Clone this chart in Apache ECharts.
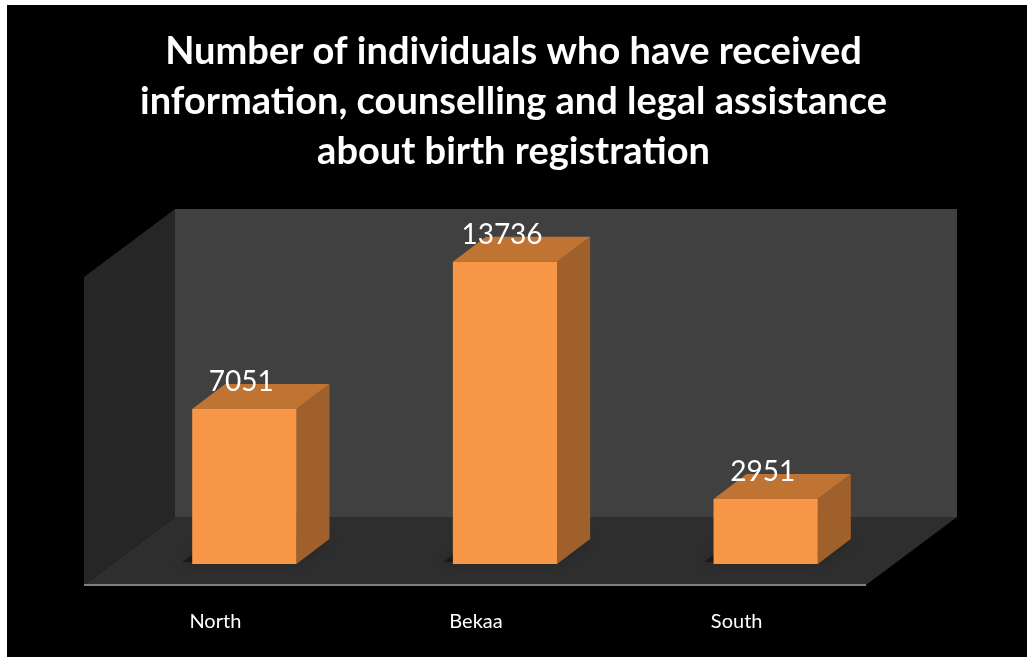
<!DOCTYPE html>
<html>
<head>
<meta charset="utf-8">
<script src="https://cdn.jsdelivr.net/npm/echarts@6/dist/echarts.min.js"></script>
<style>
  html, body { margin: 0; padding: 0; background: #000; }
  #main { width: 1027px; height: 657px; }
</style>
</head>
<body>
<div id="main"></div>
<script>
const regions = ['North', 'Bekaa', 'South']
const people = [7051, 13736, 2951]
const axisMax = 14000

// fake 3d: offsets in px from the bars' front plane
const barDepth = [33, -25]
const wallBack = [61, -47]
const floorFront = [-30, 21]

const chart = echarts.init(document.getElementById('main'))

function renderWalls(params, api) {
  const r = params.coordSys
  const x0 = r.x, x1 = r.x + r.width
  const yt = r.y, yb = r.y + r.height
  const p = (x, y, o) => [x + o[0], y + o[1]]
  return {
    type: 'group',
    children: [
      { // back wall
        type: 'polygon',
        shape: { points: [p(x0, yt, wallBack), p(x1, yt, wallBack), p(x1, yb, wallBack), p(x0, yb, wallBack)] },
        style: { fill: '#404040' }
      },
      { // left side wall
        type: 'polygon',
        shape: { points: [p(x0, yt, floorFront), p(x0, yt, wallBack), p(x0, yb, wallBack), p(x0, yb, floorFront)] },
        style: { fill: '#262626' }
      },
      { // floor
        type: 'polygon',
        shape: { points: [p(x0, yb, floorFront), p(x0, yb, wallBack), p(x1, yb, wallBack), p(x1, yb, floorFront)] },
        style: { fill: '#2e2e2e' }
      },
      { // floor front edge
        type: 'line',
        shape: { x1: x0 + floorFront[0], y1: yb + floorFront[1], x2: x1 + floorFront[0], y2: yb + floorFront[1] },
        style: { stroke: '#7f7f7f', lineWidth: 2 }
      }
    ]
  }
}

function renderBar(params, api) {
  const top = api.coord([api.value(0), api.value(1)])
  const base = api.coord([api.value(0), 0])
  const w = api.size([1, 0])[0] * 0.4
  const xl = top[0] - w / 2, xr = top[0] + w / 2
  const yt = top[1], yb = base[1]
  const dx = barDepth[0], dy = barDepth[1]
  return {
    type: 'group',
    children: [
      { // shadow on the floor
        type: 'polygon',
        shape: { points: [[xl - 10, yb - 2], [xr, yb - 2], [xr + dx, yb + dy], [xl + dx - 10, yb + dy]] },
        style: { fill: 'rgba(0,0,0,0.4)', shadowBlur: 12, shadowColor: 'rgba(0,0,0,0.7)' }
      },
      { // side
        type: 'polygon',
        shape: { points: [[xr, yt], [xr + dx, yt + dy], [xr + dx, yb + dy], [xr, yb]] },
        style: { fill: '#a0602c' }
      },
      { // top
        type: 'polygon',
        shape: { points: [[xl, yt], [xl + dx, yt + dy], [xr + dx, yt + dy], [xr, yt]] },
        style: { fill: '#bf7434' }
      },
      { // front
        type: 'rect',
        shape: { x: xl, y: yt, width: w, height: yb - yt },
        style: { fill: '#f79646' }
      },
      {
        type: 'text',
        style: {
          x: top[0] - 3, y: yt - 27,
          text: String(api.value(1)),
          fill: '#fff', font: '28px Lato',
          align: 'center', verticalAlign: 'middle'
        }
      }
    ]
  }
}

const option = {
  backgroundColor: '#000',
  title: {
    text: 'Number of individuals who have received\ninformation, counselling and legal assistance\nabout birth registration',
    left: 'center',
    top: 22,
    textStyle: { color: '#fff', fontFamily: 'Lato', fontWeight: 'bold', fontSize: 38, lineHeight: 50 }
  },
  graphic: [
    { type: 'rect', left: 0, top: 0, shape: { width: 7, height: 657 }, style: { fill: '#fff' } },
    { type: 'rect', left: 0, top: 0, shape: { width: 1027, height: 5 }, style: { fill: '#fff' } }
  ],
  grid: { left: 114, right: 131, top: 256, bottom: 93 },
  xAxis: {
    type: 'category',
    data: regions,
    axisLine: { show: false },
    axisTick: { show: false },
    axisLabel: {
      color: '#fff', fontFamily: 'Lato', fontSize: 20,
      margin: 48, padding: [0, 58, 0, 0]
    }
  },
  yAxis: {
    type: 'value', min: 0, max: axisMax, show: false
  },
  series: [
    {
      type: 'custom',
      renderItem: renderWalls,
      data: [0],
      z: 1,
      silent: true
    },
    {
      type: 'custom',
      renderItem: renderBar,
      data: regions.map((r, i) => [i, people[i]]),
      z: 2
    }
  ]
}

chart.setOption(option)
</script>
</body>
</html>
